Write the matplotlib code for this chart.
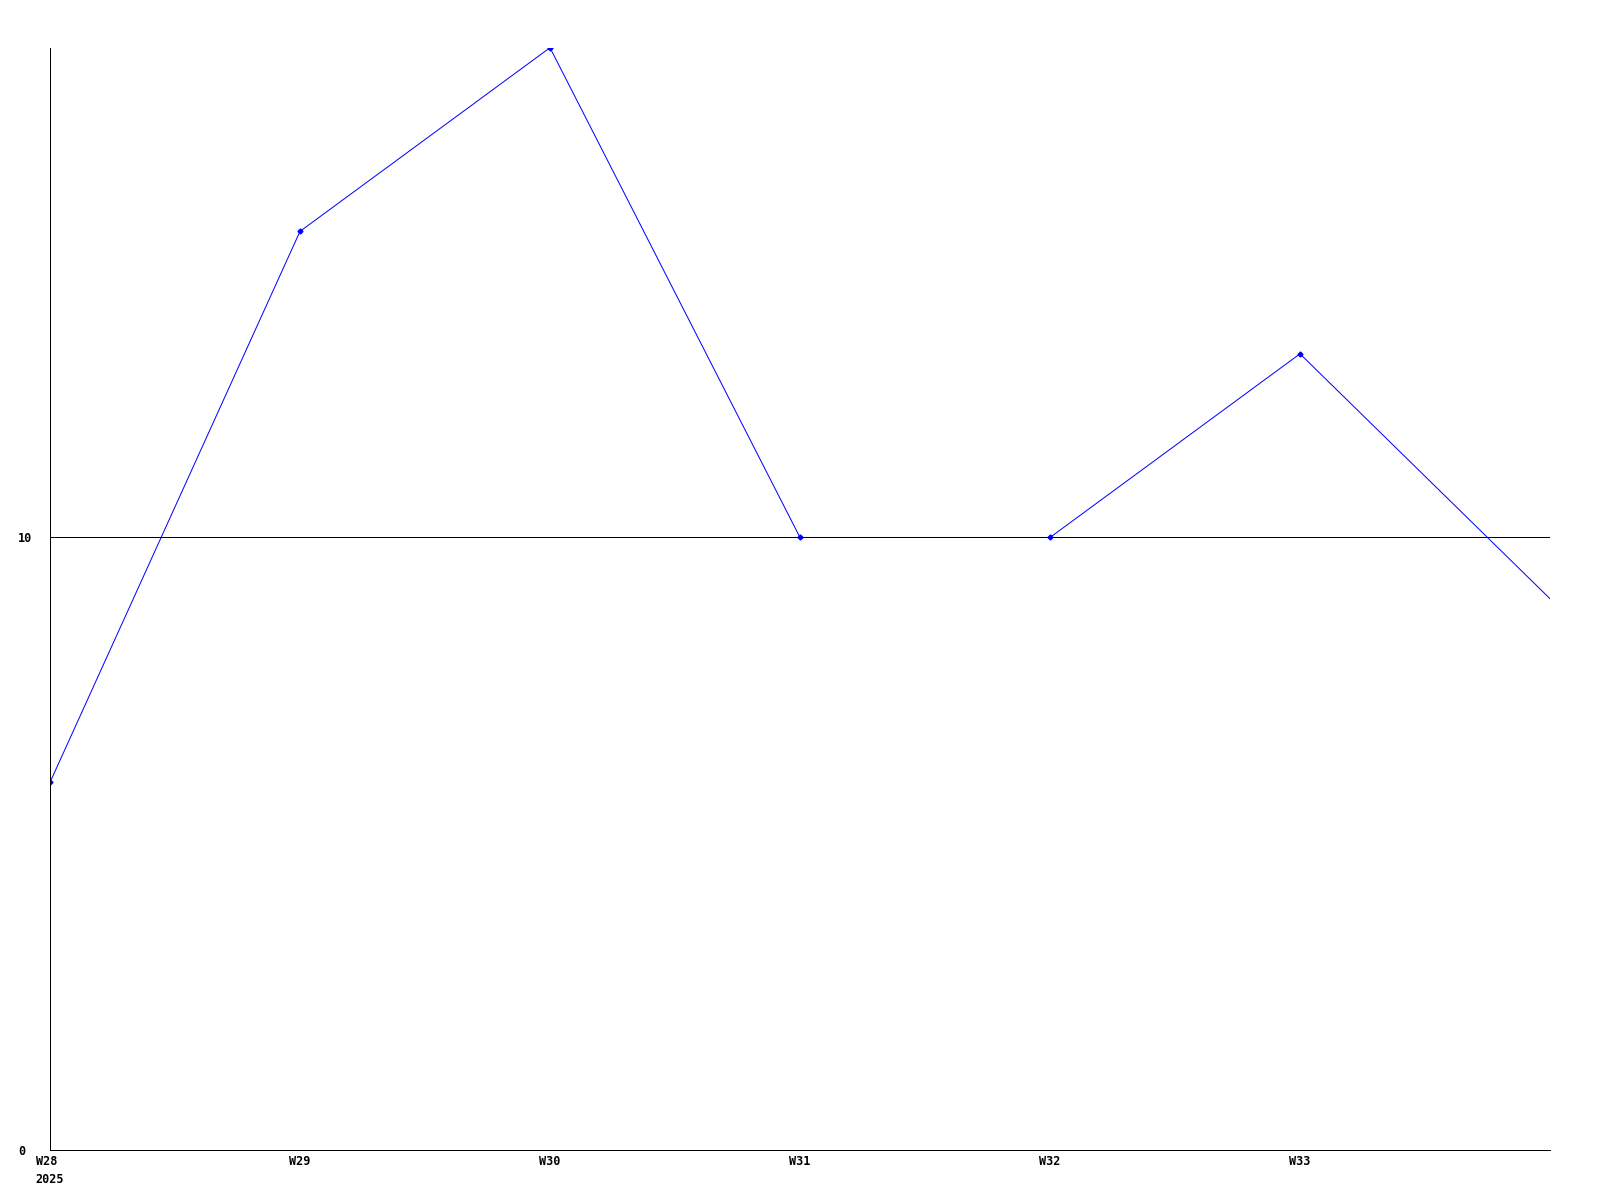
import numpy as np
import matplotlib
matplotlib.use("Agg")
import matplotlib.pyplot as plt

# weekly values
weeks = ["W28\n2025", "W29", "W30", "W31", "W32", "W33", "W34"]
values = [6, 15, 18, 10, 10, 13, 9]
yticks = [0, 10]

plt.rcParams['font.family'] = ['DejaVu Sans Mono']

px = 72 / 100  # one pixel in points at dpi 100

fig = plt.figure(figsize=(16, 12), dpi=100)
# bottom offset chosen so the line at 10 lands on a pixel centre
ax = fig.add_axes([50/1600, 50.3/1200, 1500/1600, 1102/1200])

x = np.arange(len(values))
ax.plot(x, values, color="#0000ff", lw=px, marker="D", ms=3.5 * px,
        markevery=list(range(len(values) - 1)), zorder=2)

ax.set_xlim(0, len(values) - 1)
ax.set_ylim(0, 18)

ax.set_yticks(yticks)
ax.set_yticklabels([str(t) for t in yticks], fontsize=8.5, fontweight="bold", ha="left")
ax.set_xticks(x[:-1])
ax.set_xticklabels(weeks[:-1], fontsize=8.5, fontweight="bold", multialignment="left")
ax.tick_params(axis="y", length=0, pad=23)
ax.tick_params(axis="x", length=0, pad=4)
for lab in ax.get_xticklabels():
    lab.set_linespacing(1.5)

# reference line at 10 drawn over the series
ax.axhline(10, color="black", lw=px, zorder=3)

for s in ["top", "right"]:
    ax.spines[s].set_visible(False)
for s in ["left", "bottom"]:
    ax.spines[s].set_linewidth(px)
    ax.spines[s].set_color("black")

fig.savefig("out.png", dpi=100)
